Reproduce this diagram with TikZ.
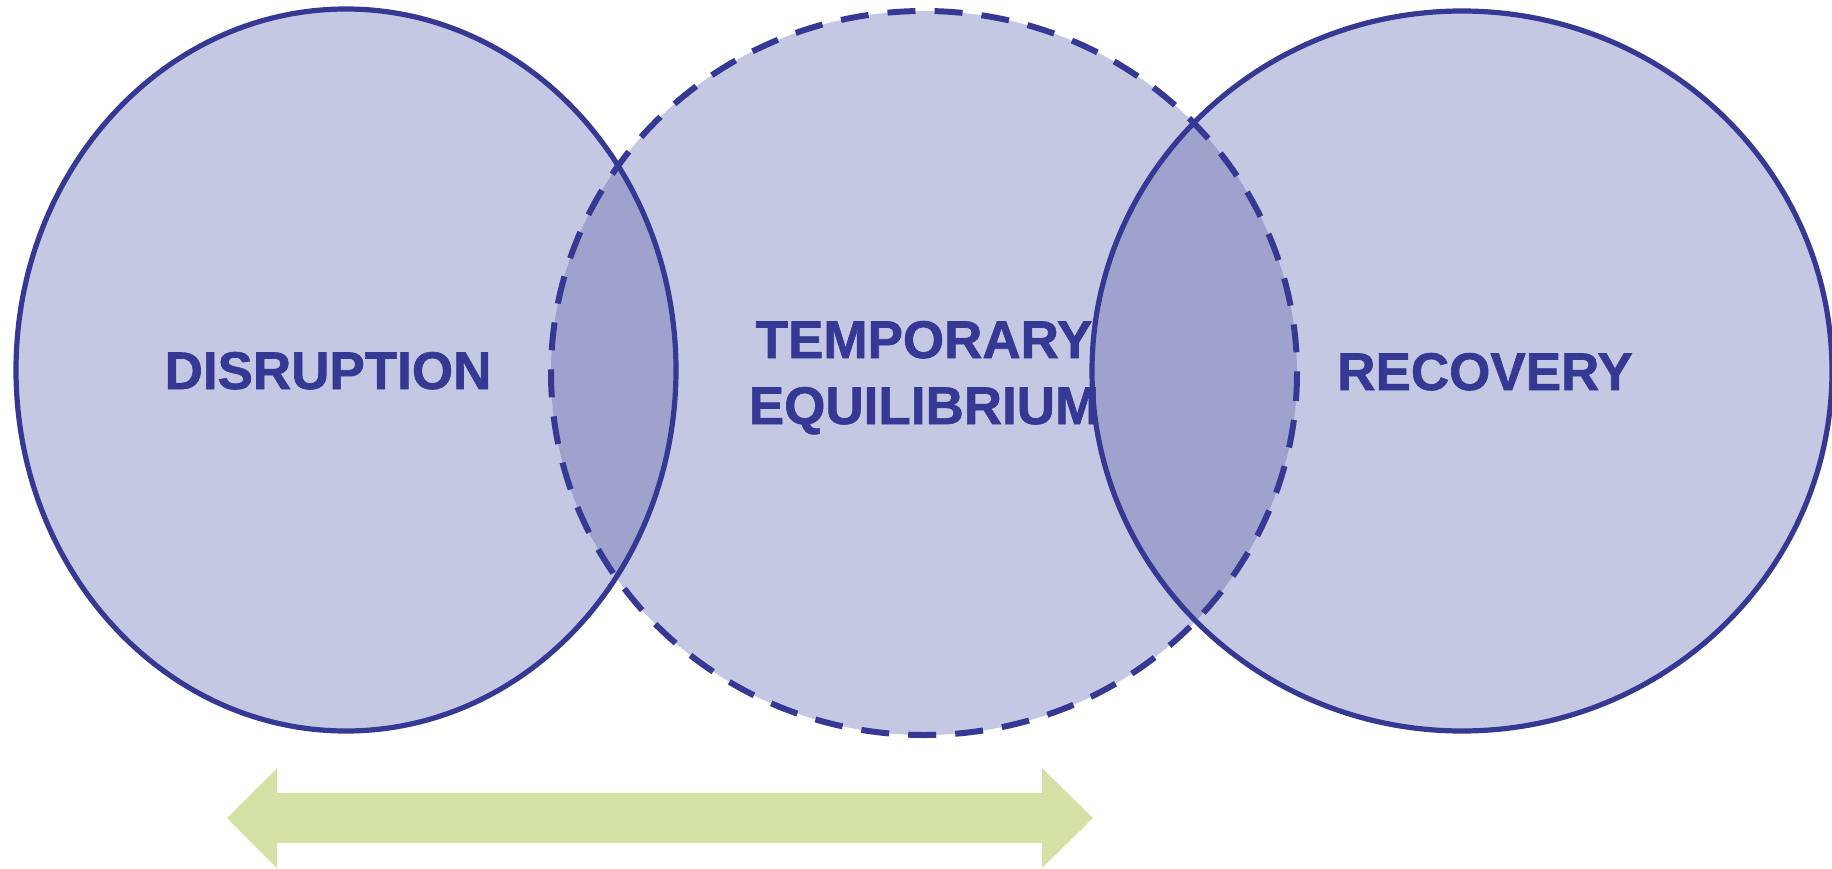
\documentclass[tikz,border=0pt]{standalone}
\usepackage{fontspec}
\setmainfont{Liberation Sans}
\newfontfamily\labelfont{Liberation Sans Bold}[FakeBold=1.2]
\definecolor{setfill}{RGB}{197,200,226}
\definecolor{lensfill}{RGB}{158,162,204}
\definecolor{setline}{RGB}{54,57,148}
\definecolor{arrowgreen}{RGB}{212,226,165}
\tikzset{
  setborder/.style={draw=setline, line width=5.2pt},
  dashedborder/.style={draw=setline, line width=6pt, dash pattern=on 28pt off 19.1pt},
  setlabel/.style={text=setline, font=\labelfont\fontsize{53}{66}\selectfont, anchor=base, inner sep=0pt, align=center},
}
\begin{document}
\begin{tikzpicture}[x=1pt, y=-1pt]
  \useasboundingbox (0,0) rectangle (1832,869);
  % centres of the three sets
  \coordinate (cL) at (346,370);
  \coordinate (cM) at (924,373);
  \coordinate (cR) at (1462,371);
  % set areas
  \fill[setfill] (cL) ellipse [x radius=330, y radius=361];
  \fill[setfill] (cM) ellipse [x radius=373, y radius=362];
  \fill[setfill] (cR) ellipse [x radius=370, y radius=360];
  % overlaps
  \begin{scope}
    \clip (cL) ellipse [x radius=330, y radius=361];
    \fill[lensfill] (cM) ellipse [x radius=373, y radius=362];
  \end{scope}
  \begin{scope}
    \clip (cR) ellipse [x radius=370, y radius=360];
    \fill[lensfill] (cM) ellipse [x radius=373, y radius=362];
  \end{scope}
  % borders
  \path[dashedborder] (cM) ellipse [x radius=373, y radius=362];
  \path[setborder] (cL) ellipse [x radius=330, y radius=361];
  \path[setborder] (cR) ellipse [x radius=370, y radius=360];
  % labels
  \node[setlabel] (disruption) at (328,389) {DISRUPTION};
  \node[setlabel] (temporary) at (924,358) {TEMPORARY};
  \node[setlabel] (equilibrium) at (924,424) {EQUILIBRIUM};
  \node[setlabel] (recovery) at (1485,390) {RECOVERY};
  % double-headed arrow beneath
  \fill[arrowgreen] (227,818) -- (277,768) -- (277,793) -- (1042,793) -- (1042,768)
    -- (1093,818) -- (1042,868) -- (1042,843) -- (277,843) -- (277,868) -- cycle;
\end{tikzpicture}
\end{document}
